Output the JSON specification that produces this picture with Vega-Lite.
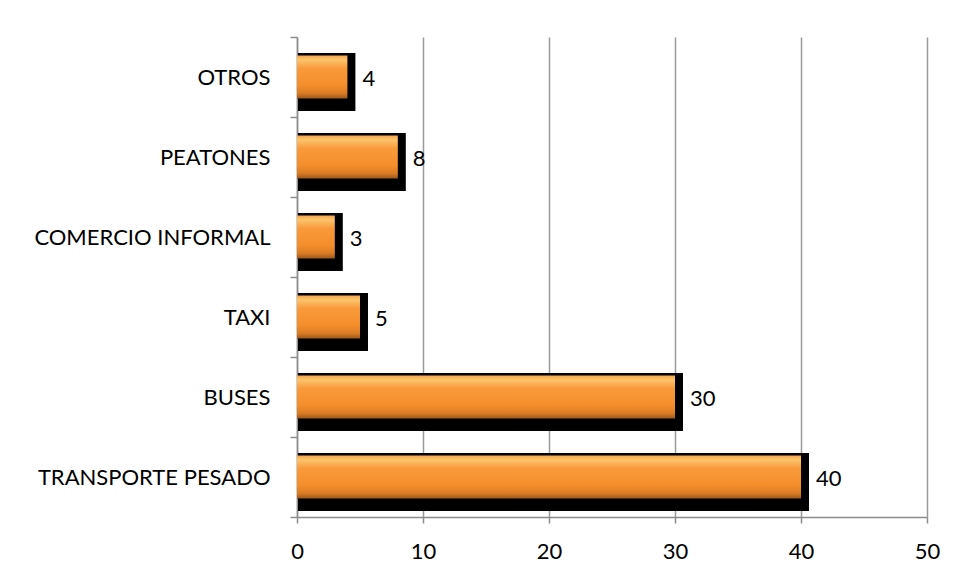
{
  "$schema": "https://vega.github.io/schema/vega-lite/v6.json",
  "autosize": {"type": "none"},
  "width": 630,
  "height": 480,
  "padding": {"left": 297, "top": 37, "right": 33, "bottom": 63},
  "background": "white",
  "data": {
    "values": [
      {"categoria": "OTROS ", "valor": 4},
      {"categoria": "PEATONES", "valor": 8},
      {"categoria": "COMERCIO INFORMAL", "valor": 3},
      {"categoria": "TAXI", "valor": 5},
      {"categoria": "BUSES", "valor": 30},
      {"categoria": "TRANSPORTE PESADO", "valor": 40}
    ]
  },
  "encoding": {
    "y": {
      "field": "categoria",
      "type": "nominal",
      "sort": null,
      "scale": {"paddingInner": 0, "paddingOuter": 0},
      "axis": {
        "title": null,
        "domainColor": "#8c8c8c",
        "domainWidth": 1.5,
        "tickColor": "#8c8c8c",
        "tickWidth": 1.5,
        "tickSize": 7,
        "tickBand": "extent",
        "labelPadding": 20,
        "labelLimit": 320,
        "labelFont": "Lato",
        "labelFontSize": 22,
        "labelColor": "#000000",
        "grid": false
      }
    }
  },
  "layer": [
    {
      "mark": {"type": "bar", "color": "#000000", "size": 58, "yOffset": 5, "xOffset": 8, "x2Offset": 1},
      "encoding": {
        "x": {
          "field": "valor",
          "type": "quantitative",
          "scale": {"domain": [0, 50], "nice": false},
          "axis": {
            "title": null,
            "values": [0, 10, 20, 30, 40, 50],
            "grid": true,
            "gridColor": "#9a9a9a",
            "gridWidth": 1.5,
            "domainColor": "#8c8c8c",
            "domainWidth": 1.5,
            "tickColor": "#8c8c8c",
            "tickWidth": 1.5,
            "tickSize": 6,
            "labelPadding": 18,
            "labelFont": "Lato",
            "labelFontSize": 22,
            "labelColor": "#000000",
            "labelFlush": false
          }
        },
        "x2": {"datum": 0}
      }
    },
    {
      "mark": {
        "type": "bar",
        "size": 43,
        "color": {
          "gradient": "linear",
          "x1": 0, "y1": 0, "x2": 0, "y2": 1,
          "stops": [
            {"offset": 0, "color": "#f7a548"},
            {"offset": 0.1, "color": "#fcc46c"},
            {"offset": 0.3, "color": "#f99a3a"},
            {"offset": 0.7, "color": "#f48e2c"},
            {"offset": 0.88, "color": "#d97b24"},
            {"offset": 1, "color": "#9c581c"}
          ]
        }
      },
      "encoding": {
        "x": {"field": "valor", "type": "quantitative"},
        "x2": {"datum": 0}
      }
    },
    {
      "mark": {"type": "text", "align": "left", "baseline": "middle", "dx": 15, "dy": 2, "font": "Lato", "fontSize": 22, "color": "#000000"},
      "encoding": {
        "x": {"field": "valor", "type": "quantitative"},
        "text": {"field": "valor", "type": "quantitative"}
      }
    }
  ],
  "config": {
    "view": {"stroke": null}
  }
}
